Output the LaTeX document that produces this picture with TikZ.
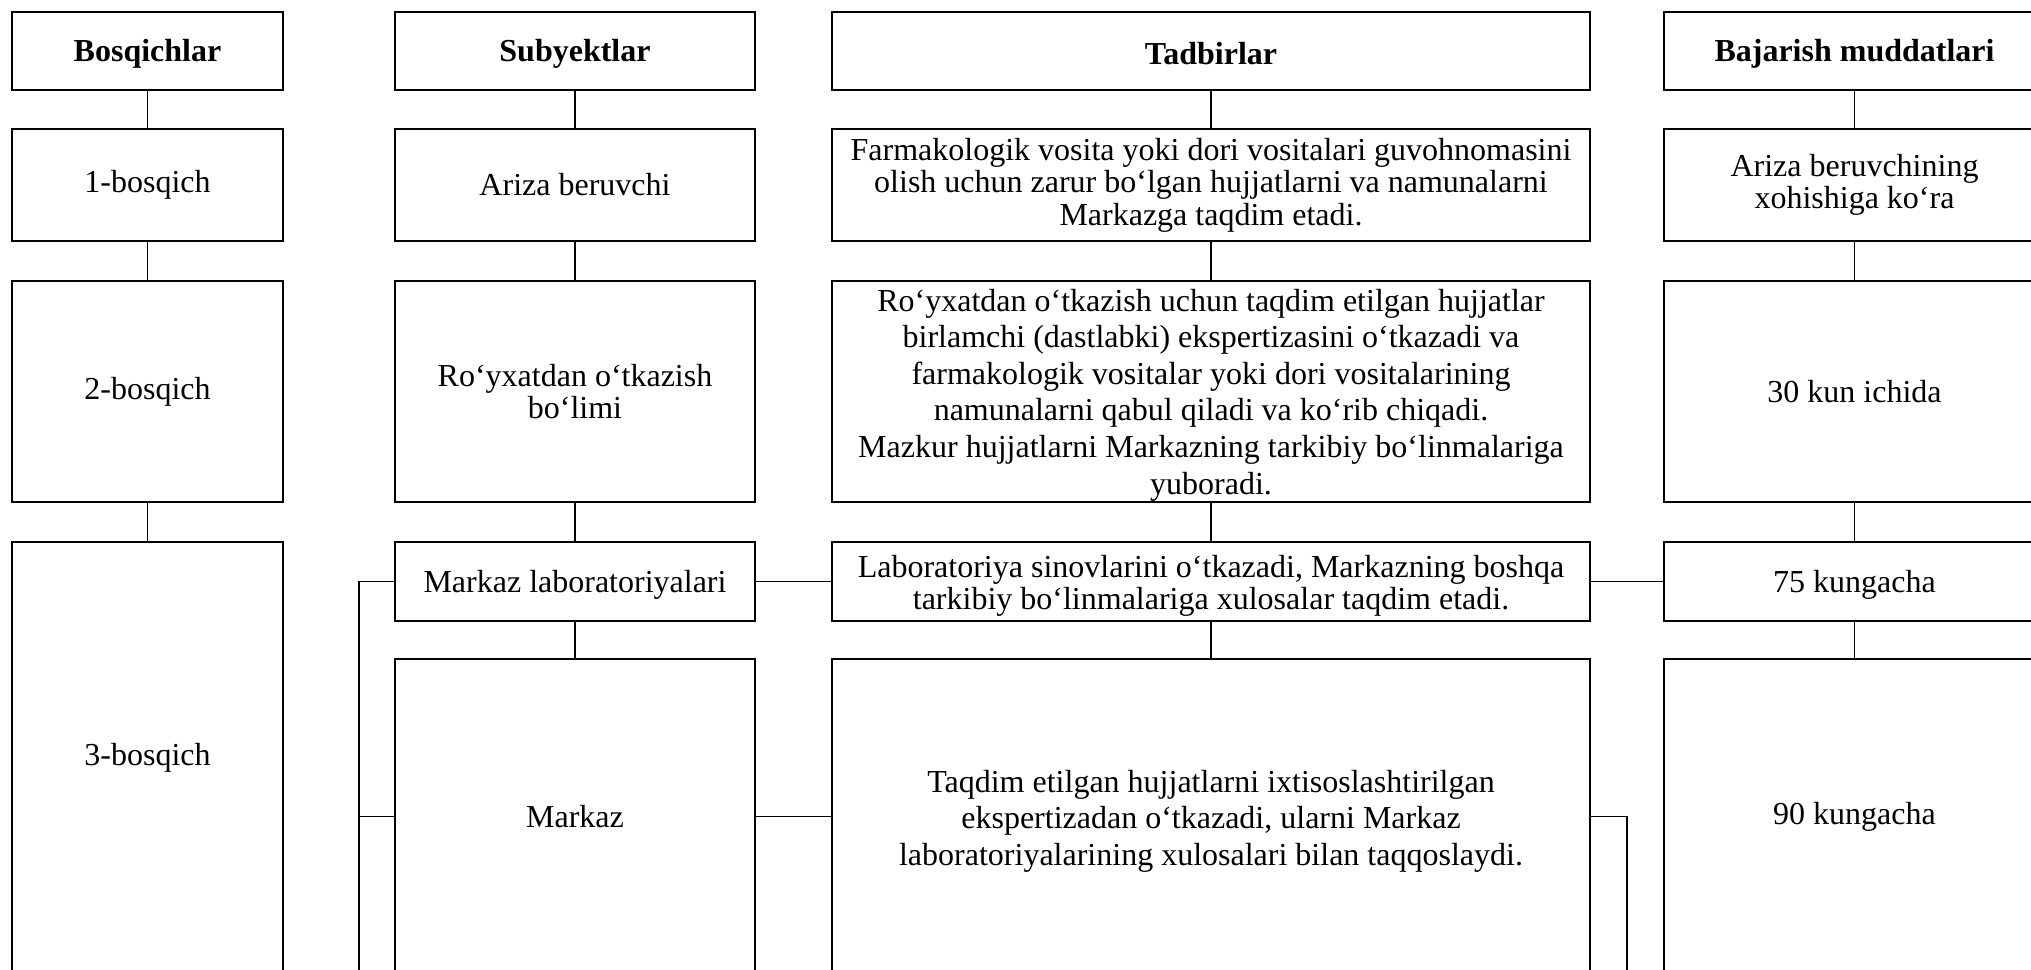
\documentclass[tikz,border=0pt]{standalone}
\usepackage{fontspec}
\setmainfont{Liberation Serif}
\newcommand{\upstrut}[1]{\rule{0pt}{#1}}
\begin{document}
\begin{tikzpicture}[x=1pt,y=-1pt,
  box/.style={draw, line width=2pt, inner sep=0pt, align=center,
    font=\fontsize{32}{32.5}\selectfont},
  hdr/.style={box, font=\fontsize{32}{32.5}\selectfont\bfseries},
  wide/.style={box, font=\fontsize{32}{36.6}\selectfont},
  wider/.style={box, font=\fontsize{32}{36.5}\selectfont},
  conn/.style={line width=1.6pt}]
\useasboundingbox (0,0) rectangle (2031,969);
\clip (0,0) rectangle (2031,969);
% header row
\node[hdr, minimum width=271pt, minimum height=78pt] (h1) at (147.5,51) {\upstrut{27pt}Bosqichlar};
\node[hdr, minimum width=360pt, minimum height=78pt] (h2) at (575,51) {\upstrut{27pt}Subyektlar};
\node[hdr, minimum width=758pt, minimum height=78pt] (h3) at (1211,51) {\upstrut{27pt}Tadbirlar};
\node[hdr, minimum width=381pt, minimum height=78pt] (h4) at (1854.5,51) {\upstrut{27pt}Bajarish muddatlari};
% row 1
\node[box, minimum width=271pt, minimum height=112pt] (a1) at (147.5,185) {1-bosqich};
\node[box, minimum width=360pt, minimum height=112pt] (b1) at (575,185) {Ariza beruvchi};
\node[box, minimum width=758pt, minimum height=112pt] (c1) at (1211,185) {Farmakologik vosita yoki dori vositalari guvohnomasini\\olish uchun zarur bo‘lgan hujjatlarni va namunalarni\\Markazga taqdim etadi.};
\node[box, minimum width=381pt, minimum height=112pt] (d1) at (1854.5,185) {Ariza beruvchining\\xohishiga ko‘ra};
% row 2
\node[box, minimum width=271pt, minimum height=221pt] (a2) at (147.5,391.5) {2-bosqich};
\node[box, minimum width=360pt, minimum height=221pt] (b2) at (575,391.5) {Ro‘yxatdan o‘tkazish\\bo‘limi};
\node[wide, text depth=0pt, minimum width=758pt, minimum height=221pt] (c2) at (1211,391.5) {Ro‘yxatdan o‘tkazish uchun taqdim etilgan hujjatlar\\birlamchi (dastlabki) ekspertizasini o‘tkazadi va\\farmakologik vositalar yoki dori vositalarining\\namunalarni qabul qiladi va ko‘rib chiqadi.\\Mazkur hujjatlarni Markazning tarkibiy bo‘linmalariga\\yuboradi.};
\node[box, minimum width=381pt, minimum height=221pt] (d2) at (1854.5,391.5) {30 kun ichida};
% row 3
\node[box, minimum width=271pt, minimum height=432pt] (a3) at (147.5,758) {3-bosqich};
\node[box, minimum width=360pt, minimum height=79pt] (b3) at (575,581.5) {\upstrut{28pt}Markaz laboratoriyalari};
\node[box, minimum width=758pt, minimum height=79pt] (c3) at (1211,581.5) {\upstrut{31pt}Laboratoriya sinovlarini o‘tkazadi, Markazning boshqa\\tarkibiy bo‘linmalariga xulosalar taqdim etadi.};
\node[box, minimum width=381pt, minimum height=79pt] (d3) at (1854.5,581.5) {\upstrut{28pt}75 kungacha};
% row 4
\node[box, minimum width=360pt, minimum height=315pt] (b4) at (575,816.5) {Markaz};
\node[wider, minimum width=758pt, minimum height=315pt] (c4) at (1211,816.5) {\upstrut{31pt}Taqdim etilgan hujjatlarni ixtisoslashtirilgan\\ekspertizadan o‘tkazadi, ularni Markaz\\laboratoriyalarining xulosalari bilan taqqoslaydi.};
\node[box, minimum width=381pt, minimum height=315pt] (d4) at (1854.5,816.5) {90 kungacha};
% vertical connectors
\draw[conn] (h1) -- (a1); \draw[conn] (a1) -- (a2); \draw[conn] (a2) -- (a2 |- a3.north);
\draw[conn] (h2) -- (b1); \draw[conn] (b1) -- (b2); \draw[conn] (b2) -- (b3); \draw[conn] (b3) -- (b4);
\draw[conn] (h3) -- (c1); \draw[conn] (c1) -- (c2); \draw[conn] (c2) -- (c3); \draw[conn] (c3) -- (c4);
\draw[conn] (h4) -- (d1); \draw[conn] (d1) -- (d2); \draw[conn] (d2) -- (d3); \draw[conn] (d3) -- (d4);
% horizontal connectors
\draw[conn] (b3) -- (c3);
\draw[conn] (c3) -- (d3);
\draw[conn] (b4) -- (c4);
% side brackets
\coordinate (lb) at (359,1000);
\coordinate (rb) at (1627,1000);
\draw[conn] (b3.west) -| (lb);
\draw[conn] (b4.west) -- (b4.west -| lb);
\draw[conn] (c4.east) -| (rb);
\end{tikzpicture}
\end{document}
